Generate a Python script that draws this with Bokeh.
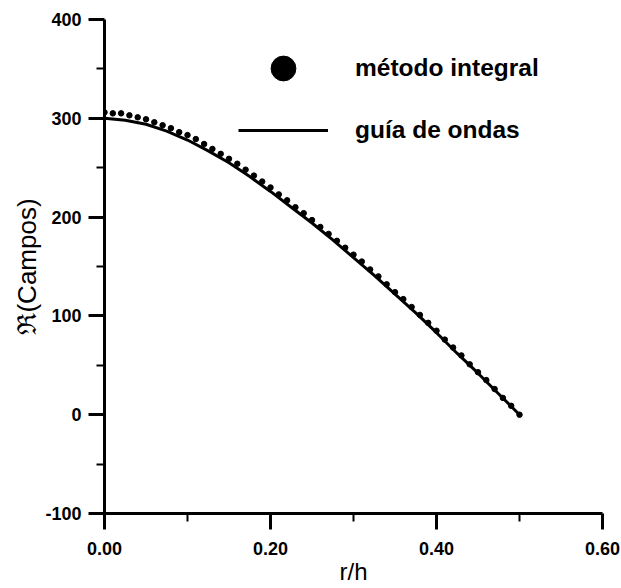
from bokeh.plotting import figure
from bokeh.models import Range1d, FixedTicker, NumeralTickFormatter, Legend, LegendItem
from bokeh.embed import file_html
from bokeh.resources import INLINE

# método integral (dots), r/h every 0.01
r_dots = [round(i * 0.01, 2) for i in range(51)]
v_dots = [306, 305, 305, 303, 301, 299, 296, 293, 290, 286,
          283, 279, 274, 269, 264, 259, 254, 248, 242, 236,
          230, 223, 217, 210, 204, 197, 190, 183, 176, 169,
          162, 155, 147, 140, 132, 124, 117, 109, 101, 93,
          85, 76, 68, 60, 51, 43, 35, 26, 17, 9, 0]

# guía de ondas (line)
r_line = [0.0, 0.025, 0.05, 0.075, 0.10, 0.125, 0.15, 0.175, 0.20, 0.225,
          0.25, 0.275, 0.30, 0.325, 0.35, 0.375, 0.40, 0.425, 0.45, 0.475, 0.50]
v_line = [300, 298, 294, 287, 278, 267, 255, 241, 226, 210,
          194, 177, 159, 141, 122, 103, 83, 62, 42, 21, 0]

x_ticks = [0.0, 0.2, 0.4, 0.6]
x_minor = [0.1, 0.3, 0.5]
y_ticks = [-100, 0, 100, 200, 300, 400]
y_minor = [-50, 50, 150, 250, 350]

FONT = "Liberation Sans"

p = figure(width=621, height=588, output_backend="svg", toolbar_location=None,
           x_range=Range1d(0, 0.6), y_range=Range1d(-100, 400),
           min_border_left=104, min_border_right=19, min_border_top=19,
           min_border_bottom=75)
p.grid.visible = False
p.outline_line_color = None

r_solid = p.line(r_line, v_line, line_color="black", line_width=3)
r_dot = p.scatter(r_dots, v_dots, size=5.5, color="black")

for ax in (p.xaxis[0], p.yaxis[0]):
    ax.axis_line_width = 3
    ax.major_tick_line_width = 3
    ax.minor_tick_line_width = 2
    ax.major_tick_out = 16
    ax.major_tick_in = 0
    ax.minor_tick_out = 8
    ax.minor_tick_in = 0
    ax.major_label_text_font = FONT
    ax.major_label_text_font_style = "bold"
    ax.major_label_text_font_size = "18px"
    ax.major_label_text_color = "black"
    ax.axis_label_text_font = FONT
    ax.axis_label_text_font_style = "normal"
    ax.axis_label_text_color = "black"

p.xaxis.ticker = FixedTicker(ticks=x_ticks, minor_ticks=x_minor)
p.yaxis.ticker = FixedTicker(ticks=y_ticks, minor_ticks=y_minor)
p.xaxis.formatter = NumeralTickFormatter(format="0.00")
p.yaxis.formatter = NumeralTickFormatter(format="0")
p.xaxis.axis_label = "r/h"
p.yaxis.axis_label = "ℜ(Campos)"
p.xaxis.axis_label_text_font_size = "24px"
p.yaxis.axis_label_text_font_size = "26px"
p.xaxis.major_label_standoff = 12
p.yaxis.major_label_standoff = 7
p.xaxis.axis_label_standoff = 0
p.yaxis.axis_label_standoff = 0

legend = Legend(items=[LegendItem(label="método integral", renderers=[r_dot]),
                       LegendItem(label="guía de ondas", renderers=[r_solid])],
                location=(134, 352), orientation="vertical",
                glyph_width=90, glyph_height=62, label_height=62, spacing=0,
                label_standoff=27, padding=0, margin=0,
                border_line_color=None, background_fill_alpha=0,
                label_text_font=FONT, label_text_font_style="bold",
                label_text_font_size="24.5px", label_text_color="black")
p.add_layout(legend)

open("out.html", "w").write(file_html(p, INLINE))
